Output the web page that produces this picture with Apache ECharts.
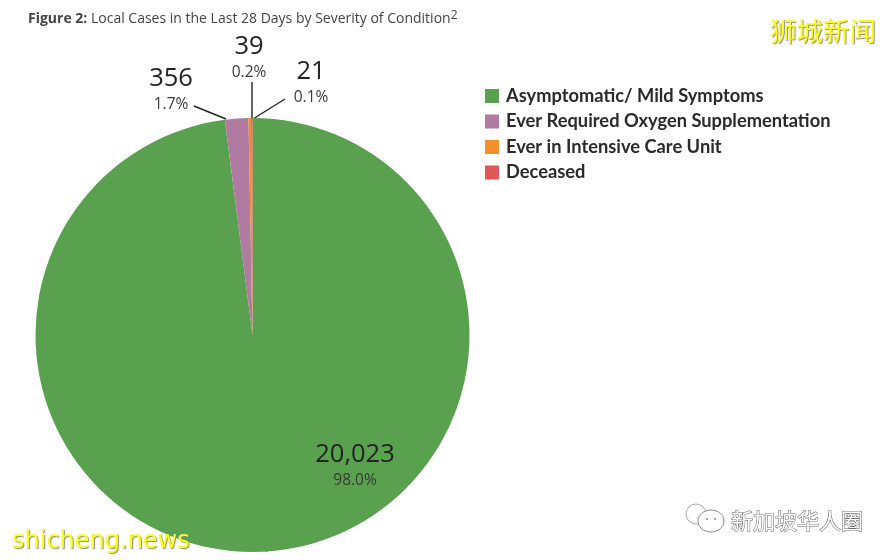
<!DOCTYPE html>
<html>
<head>
<meta charset="utf-8">
<style>html,body{margin:0;padding:0;background:#fff}#chart{width:891px;height:560px}</style>
<script src="https://cdn.jsdelivr.net/npm/echarts@6/dist/echarts.min.js"></script>
</head>
<body>
<div id="chart"></div>
<script>
var categories = ['Asymptomatic/ Mild Symptoms', 'Ever Required Oxygen Supplementation', 'Ever in Intensive Care Unit', 'Deceased'];
var cases = [20023, 356, 39, 21];
var colors = ['#59a14f', '#b07aa1', '#f28e2b', '#e15759'];

var labelPos = [
	{ x: 355, y: 466 },
	{ x: 171, y: 90 },
	{ x: 249, y: 58 },
	{ x: 311, y: 83 }
];
var linePts = [
	null,
	[[226, 119], [194, 106]],
	[[252, 119], [252, 82]],
	[[253, 119], [285, 99]]
];

var myChart = echarts.init(document.getElementById('chart'));

var option = {
	animation: false,
	color: colors,
	title: [
		{
			left: 23,
			top: 5,
			text: '{b|Figure 2:} Local Cases in the Last 28 Days by Severity of Condition{s|2}',
			textStyle: {
				fontFamily: 'Open Sans',
				fontSize: 14,
				fontWeight: 'normal',
				color: '#444',
				rich: {
					b: { fontFamily: 'Open Sans', fontSize: 14, fontWeight: 'bold', color: '#444' },
					s: { fontFamily: 'Open Sans', fontSize: 12, color: '#444', verticalAlign: 'top', padding: [0, 0, 6, 0] }
				}
			}
		},
		{
			left: 765,
			top: 13,
			text: '狮城新闻',
			textStyle: {
				fontFamily: 'Noto Sans CJK SC',
				fontSize: 26.5,
				fontWeight: 'normal',
				color: '#ffff1e',
				textShadowColor: '#888',
				textShadowBlur: 1,
				textShadowOffsetX: 1,
				textShadowOffsetY: 1
			}
		},
		{
			left: 7,
			top: 525,
			text: 'shicheng.news',
			textStyle: {
				fontFamily: 'DejaVu Sans',
				fontSize: 24,
				fontWeight: 'normal',
				color: '#ffff1e',
				textShadowColor: '#888',
				textShadowBlur: 1,
				textShadowOffsetX: 1,
				textShadowOffsetY: 1
			}
		},
		{
			left: 726,
			top: 505,
			text: '新加坡华人圈',
			textStyle: {
				fontFamily: 'Noto Sans CJK SC',
				fontSize: 22,
				fontWeight: 'normal',
				color: '#fff',
				textBorderColor: '#666',
				textBorderWidth: 1
			}
		}
	],
	graphic: [
		{ type: 'circle', shape: { cx: 696, cy: 514, r: 10 }, style: { fill: 'none', stroke: '#aaa', lineWidth: 1 } },
		{ type: 'ellipse', shape: { cx: 711, cy: 521, rx: 13, ry: 11 }, style: { fill: '#fff', stroke: '#888', lineWidth: 1 } },
		{ type: 'circle', shape: { cx: 707, cy: 519, r: 1 }, style: { fill: '#888' } },
		{ type: 'circle', shape: { cx: 715, cy: 519, r: 1 }, style: { fill: '#888' } }
	],
	legend: {
		orient: 'vertical',
		left: 480,
		top: 82,
		icon: 'rect',
		itemWidth: 14,
		itemHeight: 14,
		itemGap: 7.5,
		itemStyle: { borderWidth: 0 },
		selectedMode: false,
		data: categories,
		textStyle: {
			fontFamily: 'Lato',
			fontSize: 18.3,
			fontWeight: 'bold',
			lineHeight: 16,
			padding: [0, 0, 0, 2],
			color: '#2a2a2a'
		}
	},
	series: [
		{
			type: 'pie',
			center: [252.5, 335],
			radius: [0, 217],
			startAngle: 90,
			clockwise: true,
			percentPrecision: 1,
			avoidLabelOverlap: false,
			stillShowZeroSum: false,
			minShowLabelAngle: 0,
			data: categories.map(function (name, i) {
				return { name: name, value: cases[i] };
			}),
			label: {
				show: true,
				position: 'outside',
				formatter: function (p) {
					return '{n|' + p.value.toLocaleString('en-US') + '}\n{p|' + p.percent.toFixed(1) + '%}';
				},
				rich: {
					n: { fontFamily: 'Open Sans', fontSize: 25.5, color: '#222', lineHeight: 30, align: 'center' },
					p: { fontFamily: 'Open Sans', fontSize: 15.5, color: '#3a3a3a', lineHeight: 23, align: 'center' }
				}
			},
			labelLine: {
				show: true,
				lineStyle: { color: '#222', width: 1.4 }
			},
			labelLayout: function (p) {
				var i = p.dataIndex;
				var pos = labelPos[i];
				var out = { x: pos.x, y: pos.y, align: 'center', verticalAlign: 'middle', hideOverlap: false };
				if (linePts[i]) out.labelLinePoints = [linePts[i][0], linePts[i][1], linePts[i][1]];
				return out;
			}
		}
	]
};

myChart.setOption(option, true);
</script>
</body>
</html>
